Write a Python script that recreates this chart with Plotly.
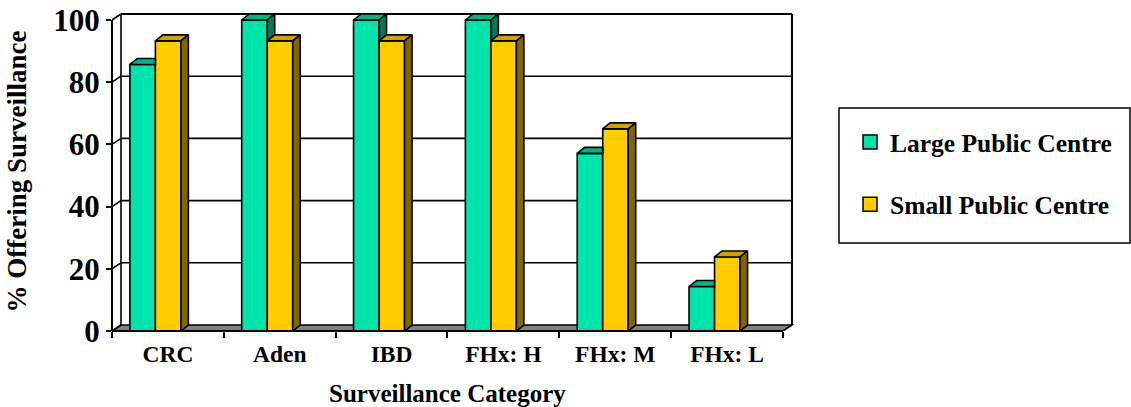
import plotly.graph_objects as go

# ---- data -------------------------------------------------------------
categories = ["CRC", "Aden", "IBD", "FHx: H", "FHx: M", "FHx: L"]
large_public = [85.7, 100, 100, 100, 57.1, 14.3]
small_public = [93.3, 93.3, 93.3, 93.3, 65.0, 23.8]
series_names = ["Large Public Centre", "Small Public Centre"]
y_ticks = [0, 20, 40, 60, 80, 100]

# ---- page / plot-area geometry -----------------------------------------
W, H = 1131, 407
M_L, M_R, M_T, M_B = 112, 331, 12, 76
PLOT_W = W - M_L - M_R
PLOT_H = H - M_T - M_B
CAT_PX = 111.83            # pixels per category slot
PX_PER_UNIT = 3.11         # pixels per percentage point
X_MIN = -0.5
X_MAX = X_MIN + PLOT_W / CAT_PX
Y_MAX = PLOT_H / PX_PER_UNIT
N = len(categories)
X_LEFT, X_RIGHT = -0.5, N - 0.5


def ux(px):
    return px / CAT_PX


def uy(px):
    return px / PX_PER_UNIT


WALL_DX, WALL_DY = ux(9), uy(6)      # depth of the walls / floor
BAR_DX, BAR_DY = ux(7.5), uy(6)      # depth of each column
BAR_W = 0.228
OFFSETS = [-0.34, -0.34 + BAR_W]

FRONT = ["#00E3AA", "#FFCC00"]
TOP = ["#00B386", "#CCA300"]
SIDE = ["#00765A", "#806600"]
FONT = "Liberation Serif, Times New Roman, serif"
LW = 1.6

fig = go.Figure()

# front faces of the columns
for k, vals in enumerate([large_public, small_public]):
    fig.add_bar(
        x=list(range(N)), y=vals, width=BAR_W, offset=OFFSETS[k],
        marker=dict(color=FRONT[k], line=dict(color="black", width=LW)),
        name=series_names[k], showlegend=False, hoverinfo="x+y",
        cliponaxis=False,
    )


def face_trace(polys, color):
    xs, ys = [], []
    for p in polys:
        for (px, py) in p + [p[0]]:
            xs.append(px)
            ys.append(py)
        xs.append(None)
        ys.append(None)
    return go.Scatter(
        x=xs, y=ys, mode="lines", fill="toself", fillcolor=color,
        line=dict(color="black", width=LW), hoverinfo="skip",
        showlegend=False,
    )


# top and side faces, painted back-to-front
g_top, g_side, y_top, y_side = [], [], [], []
for i in range(N):
    v, vy = large_public[i], small_public[i]
    xl = i + OFFSETS[0]
    xr = xl + BAR_W
    if v >= vy:
        g_top.append([(xl, v), (xr, v), (xr + BAR_DX, v + BAR_DY),
                      (xl + BAR_DX, v + BAR_DY)])
        if v > vy:
            g_side.append([(xr, vy), (xr + BAR_DX, vy + BAR_DY),
                           (xr + BAR_DX, v + BAR_DY), (xr, v)])
    else:
        g_top.append([(xl, v), (xr, v), (xr, v + BAR_DY),
                      (xl + BAR_DX, v + BAR_DY)])
    x2l, x2r = xr, xr + BAR_W
    y_top.append([(x2l, vy), (x2r, vy), (x2r + BAR_DX, vy + BAR_DY),
                  (x2l + BAR_DX, vy + BAR_DY)])
    y_side.append([(x2r, 0), (x2r + BAR_DX, BAR_DY),
                   (x2r + BAR_DX, vy + BAR_DY), (x2r, vy)])

fig.add_trace(face_trace(g_top, TOP[0]))
if g_side:
    fig.add_trace(face_trace(g_side, SIDE[0]))
fig.add_trace(face_trace(y_top, TOP[1]))
fig.add_trace(face_trace(y_side, SIDE[1]))

# legend entries
for k in range(2):
    fig.add_trace(go.Scatter(
        x=[None], y=[None], mode="markers", name=series_names[k],
        legendgroup=str(k),
        marker=dict(symbol="square", size=14, color=FRONT[k],
                    line=dict(color="black", width=1.5)),
    ))

# ---- walls, floor and gridlines ---------------------------------------
shapes = []
line = dict(color="black", width=LW)
shapes.append(dict(
    type="path", xref="x", yref="y", layer="below",
    path=(f"M {X_LEFT},0 L {X_RIGHT},0 L {X_RIGHT + WALL_DX},{WALL_DY} "
          f"L {X_LEFT + WALL_DX},{WALL_DY} Z"),
    fillcolor="#808080", line=line,
))
for v in y_ticks:
    shapes.append(dict(type="line", xref="x", yref="y", layer="below",
                       x0=X_LEFT, y0=v, x1=X_LEFT + WALL_DX, y1=v + WALL_DY,
                       line=line))
    if v > 0:
        shapes.append(dict(type="line", xref="x", yref="y", layer="below",
                           x0=X_LEFT + WALL_DX, y0=v + WALL_DY,
                           x1=X_RIGHT + WALL_DX, y1=v + WALL_DY,
                           line=line if v < 100 else dict(color="black", width=2)))
for xe in (X_LEFT + WALL_DX, X_RIGHT + WALL_DX):
    shapes.append(dict(type="line", xref="x", yref="y", layer="below",
                       x0=xe, y0=WALL_DY, x1=xe, y1=y_ticks[-1] + WALL_DY,
                       line=dict(color="black", width=2 if xe > 0 else LW)))
# front value axis and front floor edge
shapes.append(dict(type="line", xref="paper", yref="y", layer="above",
                   x0=0, y0=0, x1=0, y1=y_ticks[-1],
                   line=dict(color="black", width=2)))
shapes.append(dict(type="line", xref="x", yref="paper", layer="above",
                   x0=X_LEFT, y0=0, x1=X_RIGHT, y1=0,
                   line=dict(color="black", width=2)))


# legend frame
def px_to_paper_x(px):
    return (px - M_L) / PLOT_W


def px_to_paper_y(py):
    return (H - M_B - py) / PLOT_H


shapes.append(dict(type="rect", xref="paper", yref="paper", layer="above",
                   x0=px_to_paper_x(839), x1=px_to_paper_x(1130),
                   y0=px_to_paper_y(243), y1=px_to_paper_y(108),
                   line=dict(color="black", width=1.5),
                   fillcolor="rgba(0,0,0,0)"))

# category-axis title, centred under the front row of categories
annotations = [dict(
    text="Surveillance Category", xref="x", yref="paper",
    x=(X_LEFT + X_RIGHT) / 2, y=0, xanchor="center", yanchor="middle",
    yshift=-62, showarrow=False,
    font=dict(family=FONT, size=25, color="black", weight="bold"),
)]

fig.update_layout(
    template="none",
    width=W, height=H, autosize=False,
    margin=dict(l=M_L, r=M_R, t=M_T, b=M_B, pad=0),
    paper_bgcolor="white", plot_bgcolor="white",
    font=dict(family=FONT, color="black", weight="bold"),
    shapes=shapes,
    annotations=annotations,
    barmode="overlay",
    showlegend=True,
    legend=dict(
        xref="container", yref="container",
        x=850 / W, y=1 - 119 / H, xanchor="left", yanchor="top",
        font=dict(family=FONT, size=25.5, color="black", weight="bold"),
        bgcolor="rgba(0,0,0,0)", borderwidth=0,
        traceorder="grouped", tracegroupgap=26,
    ),
)

fig.update_xaxes(
    range=[X_MIN, X_MAX], showgrid=False, zeroline=False, showline=False,
    tickmode="array", tickvals=list(range(N)), ticktext=categories,
    ticks="", ticklabelstandoff=6,
    tickfont=dict(family=FONT, size=23.5, color="black", weight="bold"),
    minor=dict(tickmode="array", tickvals=[i - 0.5 for i in range(N + 1)],
               ticks="outside", ticklen=6, tickwidth=2, tickcolor="black",
               showgrid=False),
    automargin=False, fixedrange=True,
)
fig.update_yaxes(
    range=[0, Y_MAX], showgrid=False, zeroline=False, showline=False,
    tickmode="array", tickvals=y_ticks,
    ticks="outside", ticklen=5, tickwidth=2, tickcolor="black",
    tickfont=dict(family=FONT, size=31, color="black", weight="bold"),
    title=dict(text="% Offering Surveillance", standoff=18,
               font=dict(family=FONT, size=27, color="black", weight="bold")),
    automargin=False, fixedrange=True,
)

fig.write_html("out.html")
